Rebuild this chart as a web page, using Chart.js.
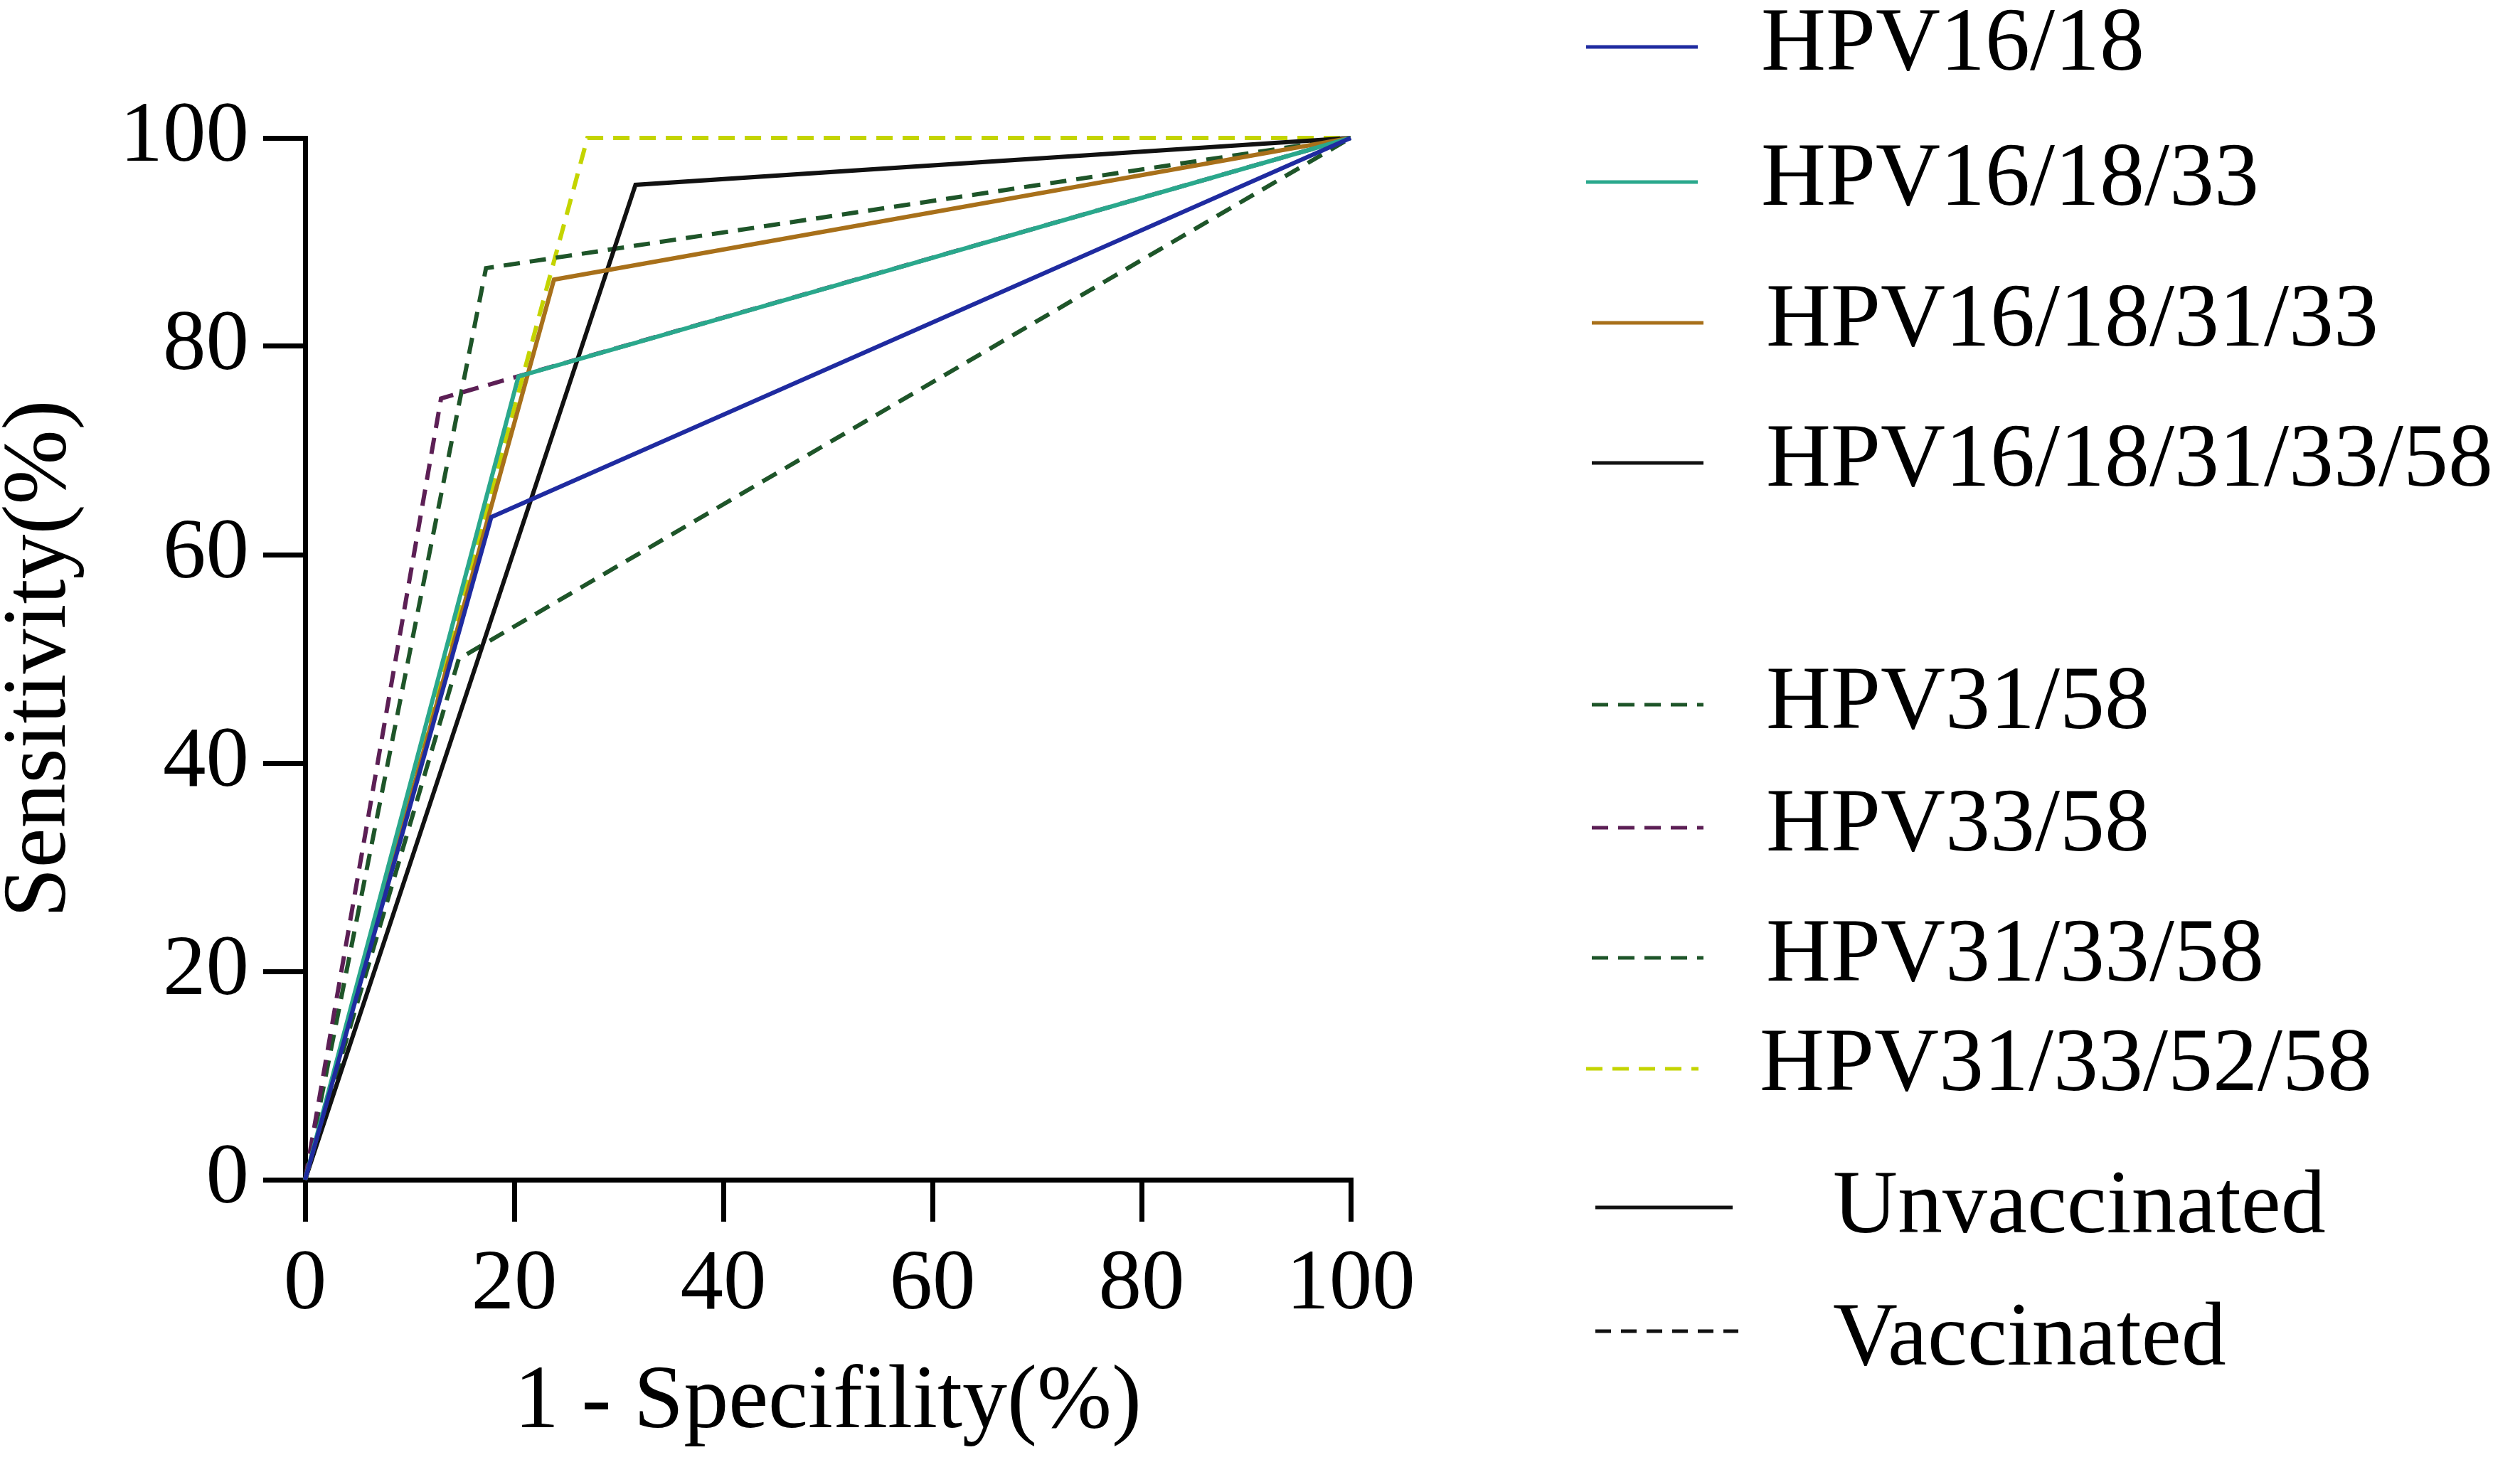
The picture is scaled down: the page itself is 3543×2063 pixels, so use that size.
<!DOCTYPE html>
<html>
<head>
<meta charset="utf-8">
<script src="https://cdn.jsdelivr.net/npm/chart.js@4.4.1/dist/chart.umd.min.js"></script>
<style>
  html, body { margin: 0; padding: 0; background: #ffffff; }
  #wrap { position: relative; width: 3543px; height: 2063px; }
</style>
</head>
<body>
<div id="wrap"><canvas id="c"></canvas></div>
<script>
// ---- data (1 - specificity %, sensitivity %) ----
const seriesNames = ['HPV16/18', 'HPV16/18/33', 'HPV16/18/31/33', 'HPV16/18/31/33/58',
                     'HPV31/58', 'HPV33/58', 'HPV31/33/58', 'HPV31/33/52/58'];
const groupNames = ['Unvaccinated', 'Vaccinated'];

const x_HPV16_18          = [0, 17.8, 100];
const y_HPV16_18          = [0, 63.6, 100];
const x_HPV16_18_33       = [0, 20.4, 100];
const y_HPV16_18_33       = [0, 77.1, 100];
const x_HPV16_18_31_33    = [0, 23.8, 100];
const y_HPV16_18_31_33    = [0, 86.4, 100];
const x_HPV16_18_31_33_58 = [0, 31.6, 100];
const y_HPV16_18_31_33_58 = [0, 95.5, 100];
const x_HPV31_58          = [0, 14.7, 100];
const y_HPV31_58          = [0, 50.0, 100];
const x_HPV33_58          = [0, 13.0, 100];
const y_HPV33_58          = [0, 75.0, 100];
const x_HPV31_33_58       = [0, 17.3, 100];
const y_HPV31_33_58       = [0, 87.5, 100];
const x_HPV31_33_52_58    = [0, 27.0, 100];
const y_HPV31_33_52_58    = [0, 100, 100];

const xTicks = [0, 20, 40, 60, 80, 100];
const yTicks = [0, 20, 40, 60, 80, 100];

// ---- styles ----
const colors = ['#1f2ba0', '#2aa88c', '#a8701a', '#111111',
                '#1e5529', '#5c1f55', '#1e5529', '#c4d400'];
const DASH = [23, 14];
const dashed = [false, false, false, false, true, true, true, true];

const xs = [x_HPV16_18, x_HPV16_18_33, x_HPV16_18_31_33, x_HPV16_18_31_33_58,
            x_HPV31_58, x_HPV33_58, x_HPV31_33_58, x_HPV31_33_52_58];
const ys = [y_HPV16_18, y_HPV16_18_33, y_HPV16_18_31_33, y_HPV16_18_31_33_58,
            y_HPV31_58, y_HPV33_58, y_HPV31_33_58, y_HPV31_33_52_58];

const datasets = seriesNames.map((name, i) => ({
  label: name,
  data: xs[i].map((x, k) => ({ x: x, y: ys[i][k] })),
  showLine: true,
  borderColor: colors[i],
  backgroundColor: colors[i],
  borderWidth: 6,
  borderDash: dashed[i] ? DASH : [],
  pointRadius: 0,
  pointHoverRadius: 0,
  tension: 0,
  clip: 12
}));

const FONT = "'Liberation Serif', 'Times New Roman', serif";

// legend layout (canvas px): line y, line start/end, text x, text y
const legendLayout = [
  { y: 66,   x1: 2230, x2: 2387, tx: 2476, ty: 65 },
  { y: 256,  x1: 2230, x2: 2387, tx: 2476, ty: 255 },
  { y: 454,  x1: 2238, x2: 2395, tx: 2483, ty: 453 },
  { y: 651,  x1: 2238, x2: 2395, tx: 2483, ty: 650 },
  { y: 991,  x1: 2238, x2: 2395, tx: 2483, ty: 991 },
  { y: 1164, x1: 2238, x2: 2395, tx: 2483, ty: 1163 },
  { y: 1347, x1: 2238, x2: 2395, tx: 2483, ty: 1346 },
  { y: 1503, x1: 2230, x2: 2388, tx: 2474, ty: 1500 },
  { y: 1698, x1: 2243, x2: 2436, tx: 2577, ty: 1700 },
  { y: 1872, x1: 2243, x2: 2444, tx: 2577, ty: 1886 }
];

const legendPlugin = {
  id: 'customLegend',
  afterDraw(chart) {
    const ctx = chart.ctx;
    const items = chart.data.datasets.map(d => ({ text: d.label, color: d.borderColor, dash: d.borderDash }));
    items.push({ text: groupNames[0], color: '#111111', dash: [] });
    items.push({ text: groupNames[1], color: '#111111', dash: [22, 14] });
    ctx.save();
    items.forEach((it, i) => {
      const L = legendLayout[i];
      ctx.beginPath();
      ctx.setLineDash(it.dash);
      ctx.lineWidth = 5;
      ctx.strokeStyle = it.color;
      ctx.moveTo(L.x1, L.y);
      ctx.lineTo(L.x2, L.y);
      ctx.stroke();
      ctx.setLineDash([]);
      ctx.fillStyle = '#000000';
      ctx.font = '126px ' + FONT;
      ctx.textAlign = 'left';
      ctx.textBaseline = 'middle';
      ctx.fillText(it.text, L.tx, L.ty);
    });
    ctx.restore();
  }
};

new Chart(document.getElementById('c'), {
  type: 'scatter',
  data: { datasets: datasets },
  plugins: [legendPlugin],
  options: {
    responsive: true,
    maintainAspectRatio: false,
    animation: false,
    events: [],
    layout: { padding: { left: 0, top: 194, right: 1644, bottom: 0 } },
    plugins: { legend: { display: false }, tooltip: { enabled: false } },
    scales: {
      x: {
        type: 'linear',
        min: 0, max: 100,
        afterFit(scale) { scale.height = 404; },
        afterBuildTicks(scale) { scale.ticks = xTicks.map(v => ({ value: v })); },
        border: { display: true, color: '#000000', width: 7 },
        grid: { display: true, drawOnChartArea: false, drawTicks: true, tickLength: 59, color: '#000000', lineWidth: 7 },
        ticks: { color: '#000000', padding: 18, maxRotation: 0, font: { family: FONT, size: 121 } },
        title: { display: true, text: '1 - Specifility(%)', color: '#000000',
                 font: { family: FONT, size: 126, lineHeight: 0.9 }, padding: { top: 0, bottom: 32 } }
      },
      y: {
        type: 'linear',
        min: 0, max: 100,
        afterFit(scale) { scale.width = 429; },
        afterBuildTicks(scale) { scale.ticks = yTicks.map(v => ({ value: v })); },
        border: { display: true, color: '#000000', width: 7 },
        grid: { display: true, drawOnChartArea: false, drawTicks: true, tickLength: 59, color: '#000000', lineWidth: 7 },
        ticks: { color: '#000000', padding: 20, font: { family: FONT, size: 121 } },
        title: { display: true, text: 'Sensitivity(%)', color: '#000000',
                 font: { family: FONT, size: 126, lineHeight: 0.9 }, padding: { top: 1, bottom: 0 } }
      }
    }
  }
});
</script>
</body>
</html>
